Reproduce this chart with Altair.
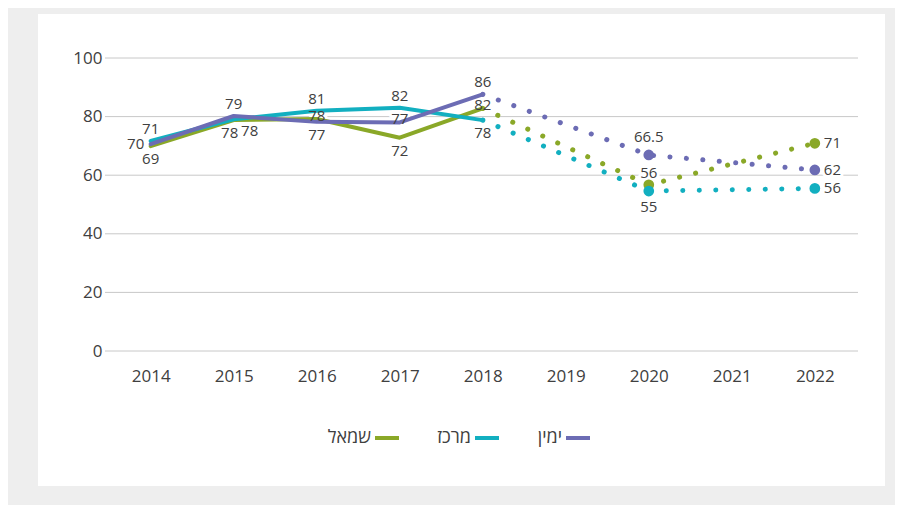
import altair as alt
import pandas as pd

# ---------------- data ----------------
years = [2014, 2015, 2016, 2017, 2018, 2020, 2022]
series_names = ["שמאל", "מרכז", "ימין"]
series_colors = ["#8aa828", "#12afc0", "#6c6cb4"]

values_smol = [69.9, 78.8, 79.2, 72.8, 82.8, 56.7, 70.9]
values_merkaz = [71.7, 79.1, 82.0, 83.0, 78.8, 54.6, 55.5]
values_yamin = [70.6, 80.2, 78.2, 78.0, 87.6, 66.9, 61.8]

last_actual_year = 2018
marker_years = [2020, 2022]

x_ticks = [2014, 2015, 2016, 2017, 2018, 2019, 2020, 2021, 2022]
y_ticks = [0, 20, 40, 60, 80, 100]

label_series = ["ימין", "מרכז", "שמאל",
                "ימין", "מרכז", "שמאל",
                "מרכז", "שמאל", "ימין",
                "מרכז", "ימין", "שמאל",
                "ימין", "שמאל", "מרכז",
                "ימין", "שמאל", "מרכז",
                "שמאל", "ימין", "מרכז"]
label_years = [2014, 2014, 2014,
               2015, 2015, 2015,
               2016, 2016, 2016,
               2017, 2017, 2017,
               2018, 2018, 2018,
               2020, 2020, 2020,
               2022, 2022, 2022]
label_texts = ["70", "71", "69",
               "79", "78", "78",
               "81", "78", "77",
               "82", "77", "72",
               "86", "82", "78",
               "66.5", "56", "55",
               "71", "62", "56"]
label_places = ["left", "above", "below",
                "above", "belowleft", "belowright",
                "above", "on", "below",
                "above", "on", "below",
                "above", "on", "below",
                "abovefar", "above", "belowfar",
                "right", "right", "right"]

# ---------------- tables ----------------
series_values = {"שמאל": values_smol, "מרכז": values_merkaz, "ימין": values_yamin}
rows = []
for s in series_names:
    for yr, v in zip(years, series_values[s]):
        rows.append({"series": s, "year": yr, "value": v})
df = pd.DataFrame(rows)
df_solid = df[df.year <= last_actual_year]
df_dotted = df[df.year >= last_actual_year]
df_markers = df[df.year.isin(marker_years)]

lab_rows = []
for s, yr, t, p in zip(label_series, label_years, label_texts, label_places):
    v = series_values[s][years.index(yr)]
    lab_rows.append({"series": s, "year": yr, "value": v, "text": t, "place": p})
df_labels = pd.DataFrame(lab_rows)
df_grid = pd.DataFrame({"value": y_ticks})

# ---------------- style ----------------
W, H = 753, 293
FONT = "Open Sans"
TXT = "#404040"
place_style = {
    "above": dict(dx=0, dy=-12, align="center"),
    "abovefar": dict(dx=0, dy=-18, align="center"),
    "below": dict(dx=0, dy=13, align="center"),
    "belowleft": dict(dx=-4, dy=14, align="center"),
    "belowfar": dict(dx=0, dy=16, align="center"),
    "left": dict(dx=-15, dy=0, align="center"),
    "belowright": dict(dx=16, dy=11, align="center"),
    "on": dict(dx=0, dy=-3, align="center"),
    "right": dict(dx=9, dy=0, align="left"),
}

x_scale = alt.Scale(domain=[2013.45, 2022.52], nice=False, zero=False)
y_scale = alt.Scale(domain=[0, 100], nice=False)
x_axis = alt.Axis(values=x_ticks, format="d", grid=False, domain=False, ticks=False, zindex=1,
                  labelFontSize=17, labelPadding=17, labelColor=TXT, labelFont=FONT, title=None)
y_axis = alt.Axis(values=y_ticks, grid=False, domain=False, ticks=False, zindex=1,
                  labelFontSize=17, labelPadding=3, labelColor=TXT, labelFont=FONT, title=None)
X = alt.X("year:Q", scale=x_scale, axis=x_axis)
Y = alt.Y("value:Q", scale=y_scale, axis=y_axis)
legend = alt.Legend(orient="none", legendX=268, legendY=366, direction="horizontal", title=None,
                    symbolType="stroke", symbolSize=576, symbolStrokeWidth=4,
                    labelAlign="right", labelOffset={"expr": "-30"}, columnPadding=30,
                    labelFontSize=18, labelColor=TXT, labelFont=FONT)
C = alt.Color("series:N", scale=alt.Scale(domain=series_names, range=series_colors), legend=legend)

bg = alt.Chart(alt.Data(values=[{"a": 1}])).mark_rect(color="white").encode(
    x=alt.value(-67), x2=alt.value(780), y=alt.value(-44), y2=alt.value(428))

grid = alt.Chart(df_grid).mark_rule(color="#c8c8c8", strokeWidth=1).encode(
    y=Y, x=alt.value(0), x2=alt.value(W))

halo_layers, text_layers = [], []
for p, st in place_style.items():
    sub = df_labels[df_labels.place == p]
    if sub.empty:
        continue
    halo_layers.append(alt.Chart(sub).mark_text(
        fontSize=15, font=FONT, baseline="middle", stroke="white", strokeWidth=6,
        strokeJoin="round", color="white", **st).encode(x=X, y=Y, text="text:N"))
    text_layers.append(alt.Chart(sub).mark_text(
        fontSize=15, font=FONT, baseline="middle", color=TXT, **st).encode(x=X, y=Y, text="text:N"))

solid = alt.Chart(df_solid).mark_line(strokeWidth=4, strokeCap="round", strokeJoin="round").encode(
    x=X, y=Y, color=C)
dotted = alt.Chart(df_dotted).mark_line(strokeWidth=5, strokeDash=[0.1, 16.4], strokeCap="round").encode(
    x=X, y=Y, color=C)
markers = alt.Chart(df_markers).mark_circle(size=115, opacity=1).encode(x=X, y=Y, color=C)

chart = alt.layer(bg, grid, *halo_layers, solid, dotted, markers, *text_layers).properties(
    width=W, height=H,
    autosize=alt.AutoSizeParams(type="none"),
    padding={"left": 97, "top": 50, "right": 37, "bottom": 154},
    background="#eeeeee",
).configure_view(stroke=None).configure(font=FONT)

chart.save("out.html", embed_options={"renderer": "svg", "actions": False})
